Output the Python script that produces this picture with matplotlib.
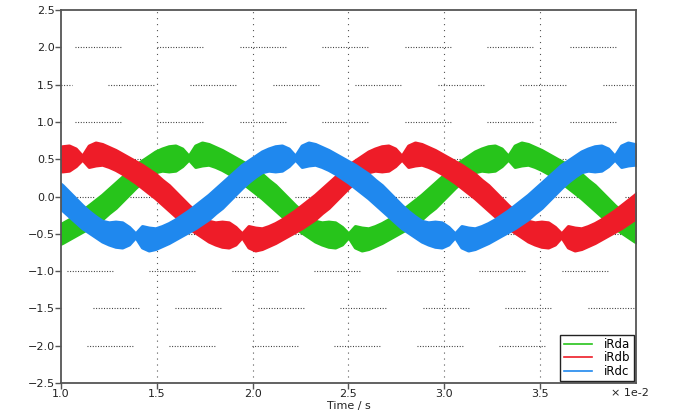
import numpy as np
import matplotlib
matplotlib.use("Agg")
import matplotlib.pyplot as plt
from matplotlib.ticker import FuncFormatter

plt.rcParams['font.family'] = ['DejaVu Sans']
plt.rcParams['lines.scale_dashes'] = False

# sample times in units of 1e-2 s (one sample every 7.5 deg of the wave)
time = np.linspace(0.972, 4.0276, 89)

# upper / lower edge of the ripple band of each phase current
ida_hi = [-0.40, -0.36, -0.31, -0.25, -0.19, -0.12, -0.05, 0.02,
          0.10, 0.18, 0.26, 0.34, 0.42, 0.48, 0.54, 0.60, 0.64, 0.67, 0.68, 0.64,
          0.54, 0.68, 0.72, 0.70, 0.66, 0.62, 0.57, 0.52, 0.47, 0.42, 0.36, 0.30,
          0.22, 0.15, 0.06, -0.03, -0.12, -0.20, -0.27, -0.33, -0.35, -0.34, -0.35, -0.41,
          -0.50, -0.40, -0.42, -0.43, -0.40, -0.36, -0.31, -0.25, -0.19, -0.12, -0.05, 0.02,
          0.10, 0.18, 0.26, 0.34, 0.42, 0.48, 0.54, 0.60, 0.64, 0.67, 0.68, 0.64,
          0.54, 0.68, 0.72, 0.70, 0.66, 0.62, 0.57, 0.52, 0.47, 0.42, 0.36, 0.30,
          0.22, 0.15, 0.06, -0.03, -0.12, -0.20, -0.27, -0.33, -0.35]
ida_lo = [-0.66, -0.62, -0.57, -0.52, -0.47, -0.42, -0.36, -0.30,
          -0.22, -0.15, -0.06, 0.03, 0.12, 0.20, 0.27, 0.33, 0.35, 0.34, 0.35, 0.41,
          0.50, 0.40, 0.42, 0.43, 0.40, 0.36, 0.31, 0.25, 0.19, 0.12, 0.05, -0.02,
          -0.10, -0.18, -0.26, -0.34, -0.42, -0.48, -0.54, -0.60, -0.64, -0.67, -0.68, -0.64,
          -0.54, -0.68, -0.72, -0.70, -0.66, -0.62, -0.57, -0.52, -0.47, -0.42, -0.36, -0.30,
          -0.22, -0.15, -0.06, 0.03, 0.12, 0.20, 0.27, 0.33, 0.35, 0.34, 0.35, 0.41,
          0.50, 0.40, 0.42, 0.43, 0.40, 0.36, 0.31, 0.25, 0.19, 0.12, 0.05, -0.02,
          -0.10, -0.18, -0.26, -0.34, -0.42, -0.48, -0.54, -0.60, -0.64]

idb_hi = [0.64, 0.67, 0.68, 0.64,
          0.54, 0.68, 0.72, 0.70, 0.66, 0.62, 0.57, 0.52, 0.47, 0.42, 0.36, 0.30,
          0.22, 0.15, 0.06, -0.03, -0.12, -0.20, -0.27, -0.33, -0.35, -0.34, -0.35, -0.41,
          -0.50, -0.40, -0.42, -0.43, -0.40, -0.36, -0.31, -0.25, -0.19, -0.12, -0.05, 0.02,
          0.10, 0.18, 0.26, 0.34, 0.42, 0.48, 0.54, 0.60, 0.64, 0.67, 0.68, 0.64,
          0.54, 0.68, 0.72, 0.70, 0.66, 0.62, 0.57, 0.52, 0.47, 0.42, 0.36, 0.30,
          0.22, 0.15, 0.06, -0.03, -0.12, -0.20, -0.27, -0.33, -0.35, -0.34, -0.35, -0.41,
          -0.50, -0.40, -0.42, -0.43, -0.40, -0.36, -0.31, -0.25, -0.19, -0.12, -0.05, 0.02,
          0.10]
idb_lo = [0.35, 0.34, 0.35, 0.41,
          0.50, 0.40, 0.42, 0.43, 0.40, 0.36, 0.31, 0.25, 0.19, 0.12, 0.05, -0.02,
          -0.10, -0.18, -0.26, -0.34, -0.42, -0.48, -0.54, -0.60, -0.64, -0.67, -0.68, -0.64,
          -0.54, -0.68, -0.72, -0.70, -0.66, -0.62, -0.57, -0.52, -0.47, -0.42, -0.36, -0.30,
          -0.22, -0.15, -0.06, 0.03, 0.12, 0.20, 0.27, 0.33, 0.35, 0.34, 0.35, 0.41,
          0.50, 0.40, 0.42, 0.43, 0.40, 0.36, 0.31, 0.25, 0.19, 0.12, 0.05, -0.02,
          -0.10, -0.18, -0.26, -0.34, -0.42, -0.48, -0.54, -0.60, -0.64, -0.67, -0.68, -0.64,
          -0.54, -0.68, -0.72, -0.70, -0.66, -0.62, -0.57, -0.52, -0.47, -0.42, -0.36, -0.30,
          -0.22]

idc_hi = [0.22, 0.15, 0.06, -0.03, -0.12, -0.20, -0.27, -0.33, -0.35, -0.34, -0.35, -0.41,
          -0.50, -0.40, -0.42, -0.43, -0.40, -0.36, -0.31, -0.25, -0.19, -0.12, -0.05, 0.02,
          0.10, 0.18, 0.26, 0.34, 0.42, 0.48, 0.54, 0.60, 0.64, 0.67, 0.68, 0.64,
          0.54, 0.68, 0.72, 0.70, 0.66, 0.62, 0.57, 0.52, 0.47, 0.42, 0.36, 0.30,
          0.22, 0.15, 0.06, -0.03, -0.12, -0.20, -0.27, -0.33, -0.35, -0.34, -0.35, -0.41,
          -0.50, -0.40, -0.42, -0.43, -0.40, -0.36, -0.31, -0.25, -0.19, -0.12, -0.05, 0.02,
          0.10, 0.18, 0.26, 0.34, 0.42, 0.48, 0.54, 0.60, 0.64, 0.67, 0.68, 0.64,
          0.54, 0.68, 0.72, 0.70, 0.66]
idc_lo = [-0.10, -0.18, -0.26, -0.34, -0.42, -0.48, -0.54, -0.60, -0.64, -0.67, -0.68, -0.64,
          -0.54, -0.68, -0.72, -0.70, -0.66, -0.62, -0.57, -0.52, -0.47, -0.42, -0.36, -0.30,
          -0.22, -0.15, -0.06, 0.03, 0.12, 0.20, 0.27, 0.33, 0.35, 0.34, 0.35, 0.41,
          0.50, 0.40, 0.42, 0.43, 0.40, 0.36, 0.31, 0.25, 0.19, 0.12, 0.05, -0.02,
          -0.10, -0.18, -0.26, -0.34, -0.42, -0.48, -0.54, -0.60, -0.64, -0.67, -0.68, -0.64,
          -0.54, -0.68, -0.72, -0.70, -0.66, -0.62, -0.57, -0.52, -0.47, -0.42, -0.36, -0.30,
          -0.22, -0.15, -0.06, 0.03, 0.12, 0.20, 0.27, 0.33, 0.35, 0.34, 0.35, 0.41,
          0.50, 0.40, 0.42, 0.43, 0.40]

labels = ['iRda', 'iRdb', 'iRdc']
colors = ['#27C41B', '#EE1C28', '#1F88EE']

x_ticks = [1.0, 1.5, 2.0, 2.5, 3.0, 3.5]
y_ticks = [-2.5, -2.0, -1.5, -1.0, -0.5, 0.0, 0.5, 1.0, 1.5, 2.0, 2.5]
# start of first dotted piece (px from left spine) for each horizontal grid row
grid_rows = [2.0, 1.5, 1.0, 0.5, 0.0, -0.5, -1.0, -1.5, -2.0]
grid_start = [14, 47, 14, 47, 69, 32, 6, 32, 26]


def fmt(v, pos):
    s = f"{v:.1f}"
    if s == "-0.0":
        s = "0.0"
    return s.replace('-', '\u2212')


fig = plt.figure(figsize=(6.77, 4.13), dpi=100)
ax = fig.add_axes([0.0901, 0.0726, 0.8493, 0.9032])

# horizontal grid: dotted pieces with gaps, like the original export
width_px = 575.0
period = 82.5
piece = 47.0
ytrans = ax.get_yaxis_transform()
for y, d in zip(grid_rows, grid_start):
    s = d - period
    while s < width_px:
        a, b = max(s, 0.0), min(s + piece, width_px)
        if b > a:
            ax.plot([a / width_px, b / width_px], [y, y], transform=ytrans,
                    color='#333333', lw=0.8, linestyle=(0, (0.7, 1.2)), zorder=1)
        s += period
for x in x_ticks[1:]:
    ax.axvline(x, color='#555555', lw=0.8, zorder=1, linestyle=(0, (0.8, 3.5)))

bands = [(ida_lo, ida_hi), (idb_lo, idb_hi), (idc_lo, idc_hi)]
for (lo, hi), c, z in zip(bands, colors, [2, 3, 4]):
    pc = ax.fill_between(time, lo, hi, color=c, lw=2.6, edgecolor=c, zorder=z)
    pc.set_joinstyle('round')

ax.set_xlim(1.0, 4.0)
ax.set_ylim(-2.5, 2.5)
ax.set_xticks(x_ticks)
ax.set_yticks(y_ticks)
ax.yaxis.set_major_formatter(FuncFormatter(fmt))
ax.xaxis.set_major_formatter(FuncFormatter(fmt))
ax.tick_params(direction='out', length=4, width=1, color='#555555',
               labelsize=8, labelcolor='#222222', pad=0.5)
for s in ax.spines.values():
    s.set_color('#555555')
    s.set_linewidth(1.3)
    s.set_zorder(6)

ax.set_xlabel('Time / s', fontsize=8, color='#222222', va='top')
ax.xaxis.set_label_coords(0.5, -0.048)
ax.text(0.99, -0.0135, '\u00d7 1e-2', transform=ax.transAxes, fontsize=8,
        color='#222222', ha='center', va='top')

handles = [plt.Line2D([], [], color=c, lw=1.2) for c in colors]
leg = ax.legend(handles, labels, loc='lower right', fontsize=8.5, frameon=True,
                fancybox=False, edgecolor='#222222', framealpha=1,
                borderaxespad=0.15, borderpad=0.3, labelspacing=0.02,
                handlelength=2.4, handletextpad=1.0)
leg.get_frame().set_linewidth(1.0)
leg.set_zorder(10)

fig.savefig('out.png', dpi=100)
